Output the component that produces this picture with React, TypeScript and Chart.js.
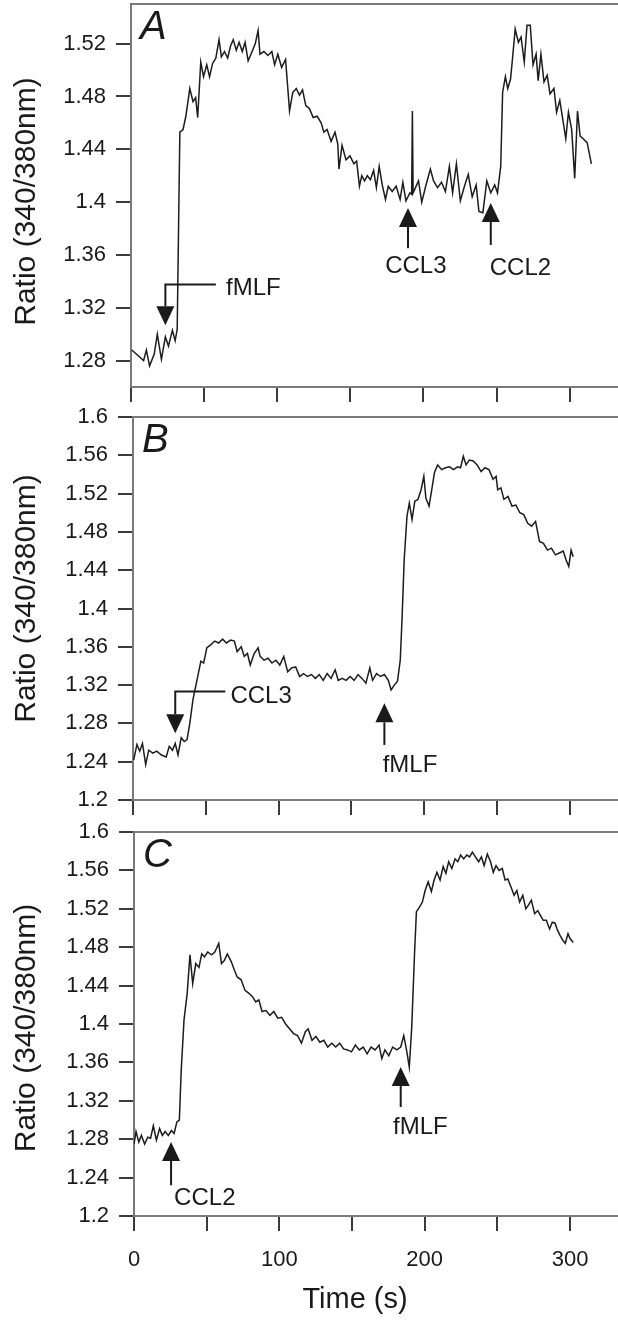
import React, { useEffect, useRef } from 'react';
import { Chart, registerables } from 'chart.js';

Chart.register(...registerables);

const FONT = '"Liberation Sans", Arial, Helvetica, sans-serif';

// ---------- Data ----------
const timeA = [
  0.5, 4.6, 8.6, 10.5, 12.7, 15.9, 18.0, 20.8, 23.5, 25.6,
  28.3, 30.2, 31.6, 33.4, 35.6, 37.5, 40.2, 42.4, 44.2, 45.6,
  47.7, 49.6, 51.8, 53.7, 55.8, 58.0, 60.2, 61.8, 63.9, 66.1,
  68.0, 69.9, 72.0, 73.9, 76.1, 78.0, 80.1, 82.8, 85.0, 86.9,
  88.2, 90.9, 93.6, 96.3, 98.2, 100.4, 103.0, 105.7, 108.4, 110.6,
  113.0, 115.2, 117.3, 119.5, 121.9, 124.6, 127.3, 130.0, 131.9, 134.1,
  136.8, 139.5, 141.4, 142.2, 144.3, 147.0, 149.7, 152.4, 154.3, 156.2,
  157.8, 159.7, 161.6, 163.7, 165.9, 167.8, 169.7, 171.8, 174.0, 175.9,
  178.6, 181.3, 184.0, 185.9, 188.0, 190.7, 191.9, 192.4, 192.9, 196.6,
  198.8, 201.5, 204.7, 206.9, 209.6, 212.3, 215.0, 217.7, 219.9, 222.5,
  225.2, 228.0, 230.6, 233.3, 236.0, 237.9, 240.6, 243.3, 246.0, 248.7,
  250.6, 252.8, 254.1, 256.0, 257.6, 259.5, 260.9, 262.7, 264.9, 266.7,
  268.9, 270.8, 273.0, 274.9, 277.0, 278.4, 280.3, 282.4, 284.6, 286.5,
  289.2, 291.0, 293.2, 297.3, 299.1, 301.3, 303.4, 305.3, 307.1, 309.2,
  311.9, 314.8,
];
const ratioA = [
  1.288, 1.284, 1.280, 1.288, 1.276, 1.285, 1.300, 1.281, 1.298, 1.291,
  1.303, 1.295, 1.304, 1.453, 1.455, 1.465, 1.486, 1.476, 1.479, 1.464,
  1.506, 1.495, 1.504, 1.495, 1.505, 1.509, 1.523, 1.510, 1.514, 1.509,
  1.518, 1.523, 1.515, 1.521, 1.514, 1.521, 1.507, 1.514, 1.520, 1.530,
  1.512, 1.514, 1.511, 1.514, 1.504, 1.512, 1.502, 1.508, 1.469, 1.483,
  1.486, 1.481, 1.485, 1.473, 1.471, 1.464, 1.465, 1.460, 1.453, 1.455,
  1.446, 1.453, 1.444, 1.425, 1.443, 1.432, 1.435, 1.429, 1.431, 1.412,
  1.420, 1.416, 1.420, 1.417, 1.424, 1.411, 1.427, 1.413, 1.402, 1.412,
  1.408, 1.412, 1.402, 1.415, 1.401, 1.407, 1.406, 1.469, 1.407, 1.416,
  1.400, 1.412, 1.425, 1.416, 1.411, 1.415, 1.408, 1.427, 1.407, 1.429,
  1.401, 1.412, 1.421, 1.404, 1.413, 1.393, 1.392, 1.416, 1.407, 1.413,
  1.407, 1.427, 1.483, 1.495, 1.486, 1.493, 1.509, 1.531, 1.521, 1.525,
  1.506, 1.534, 1.534, 1.504, 1.512, 1.492, 1.512, 1.491, 1.496, 1.482,
  1.486, 1.468, 1.477, 1.448, 1.468, 1.455, 1.418, 1.469, 1.450, 1.448,
  1.445, 1.429,
];

const timeB = [
  0.5, 2.7, 4.6, 6.5, 8.7, 10.8, 13.6, 16.3, 19.5, 22.8,
  24.9, 27.1, 29.0, 30.9, 33.1, 35.2, 37.1, 39.0, 41.2, 43.9,
  46.6, 48.5, 50.7, 53.4, 56.1, 58.8, 61.5, 64.2, 66.9, 69.6,
  71.5, 74.3, 76.4, 78.6, 80.5, 83.2, 85.9, 87.3, 90.0, 92.7,
  95.4, 98.1, 100.8, 103.5, 106.2, 108.9, 111.7, 114.4, 117.1, 119.8,
  122.5, 125.2, 127.9, 130.6, 133.3, 136.0, 138.8, 140.9, 143.6, 146.3,
  149.1, 151.8, 154.5, 157.2, 159.9, 162.6, 164.5, 167.2, 169.9, 172.6,
  175.3, 177.2, 179.4, 181.6, 183.5, 184.8, 186.2, 188.1, 189.7, 191.6,
  193.5, 195.7, 197.8, 199.7, 201.1, 203.3, 205.1, 207.0, 209.2, 211.9,
  214.6, 217.3, 220.0, 222.8, 224.9, 226.8, 228.7, 230.9, 233.6, 236.3,
  239.0, 241.7, 244.4, 247.2, 249.3, 250.4, 252.6, 254.7, 257.5, 260.2,
  262.9, 265.6, 268.3, 271.0, 273.7, 276.4, 279.1, 281.8, 284.6, 287.3,
  290.0, 292.7, 295.4, 297.3, 299.2, 300.8, 302.2,
];
const ratioB = [
  1.242, 1.258, 1.251, 1.259, 1.237, 1.252, 1.249, 1.251, 1.247, 1.245,
  1.256, 1.252, 1.259, 1.247, 1.265, 1.261, 1.263, 1.280, 1.305, 1.325,
  1.345, 1.343, 1.359, 1.362, 1.366, 1.364, 1.368, 1.364, 1.367, 1.366,
  1.355, 1.360, 1.350, 1.353, 1.341, 1.353, 1.359, 1.350, 1.346, 1.348,
  1.343, 1.346, 1.341, 1.350, 1.334, 1.338, 1.339, 1.329, 1.332, 1.329,
  1.331, 1.327, 1.331, 1.325, 1.332, 1.327, 1.336, 1.325, 1.327, 1.325,
  1.329, 1.325, 1.331, 1.327, 1.322, 1.338, 1.325, 1.332, 1.329, 1.331,
  1.325, 1.315, 1.320, 1.324, 1.346, 1.392, 1.451, 1.496, 1.510, 1.493,
  1.512, 1.514, 1.524, 1.538, 1.515, 1.507, 1.524, 1.542, 1.550, 1.545,
  1.547, 1.548, 1.545, 1.548, 1.547, 1.559, 1.550, 1.555, 1.554, 1.550,
  1.543, 1.547, 1.545, 1.535, 1.538, 1.524, 1.526, 1.514, 1.517, 1.507,
  1.508, 1.500, 1.498, 1.489, 1.486, 1.491, 1.470, 1.468, 1.461, 1.463,
  1.456, 1.458, 1.460, 1.451, 1.444, 1.461, 1.454,
];

const timeC = [
  0, 1.4, 3.3, 5.1, 7.3, 9.5, 11.4, 13.3, 15.4, 17.6,
  19.5, 21.4, 23.6, 25.7, 27.6, 29.5, 31.2, 32.5, 34.4, 36.6,
  38.5, 40.4, 42.5, 44.7, 46.6, 48.5, 50.7, 53.4, 55.6, 58.3,
  60.2, 62.1, 64.2, 66.9, 69.1, 71.0, 73.7, 76.4, 79.1, 81.8,
  83.7, 85.9, 88.1, 90.8, 93.5, 96.2, 98.9, 101.6, 104.3, 107.0,
  109.8, 112.5, 115.2, 117.9, 119.8, 122.5, 125.2, 127.9, 130.6, 133.3,
  136.0, 138.8, 141.5, 144.2, 146.9, 149.6, 152.3, 155.0, 157.7, 160.4,
  163.1, 165.9, 168.6, 170.5, 172.6, 175.3, 178.0, 180.8, 183.5, 185.6,
  187.5, 189.4, 191.1, 193.0, 194.3, 196.5, 198.4, 200.3, 202.4, 204.6,
  206.5, 208.4, 210.6, 212.7, 214.6, 216.5, 218.7, 220.9, 222.8, 224.7,
  226.8, 229.0, 230.9, 232.8, 234.9, 237.1, 239.0, 240.9, 243.1, 245.3,
  247.2, 249.1, 251.2, 253.4, 255.3, 257.2, 259.3, 261.5, 263.4, 265.3,
  267.5, 269.6, 271.5, 273.4, 275.6, 277.8, 279.7, 281.6, 283.7, 285.9,
  287.8, 289.7, 291.3, 293.2, 295.1, 296.7, 298.6, 300.0, 302.2,
];
const ratioC = [
  1.275, 1.288, 1.277, 1.284, 1.275, 1.282, 1.281, 1.294, 1.279, 1.291,
  1.284, 1.288, 1.284, 1.289, 1.286, 1.298, 1.300, 1.352, 1.404, 1.432,
  1.472, 1.442, 1.463, 1.459, 1.473, 1.470, 1.475, 1.472, 1.475, 1.484,
  1.463, 1.466, 1.473, 1.465, 1.456, 1.449, 1.446, 1.435, 1.432, 1.428,
  1.423, 1.425, 1.413, 1.414, 1.409, 1.413, 1.406, 1.407, 1.400, 1.395,
  1.390, 1.388, 1.380, 1.392, 1.395, 1.383, 1.387, 1.381, 1.383, 1.376,
  1.380, 1.376, 1.380, 1.374, 1.373, 1.371, 1.378, 1.373, 1.376, 1.369,
  1.376, 1.373, 1.378, 1.364, 1.373, 1.367, 1.376, 1.373, 1.376, 1.388,
  1.373, 1.355, 1.397, 1.473, 1.517, 1.522, 1.527, 1.539, 1.548, 1.538,
  1.550, 1.558, 1.550, 1.564, 1.557, 1.569, 1.562, 1.572, 1.569, 1.576,
  1.572, 1.576, 1.574, 1.579, 1.574, 1.569, 1.574, 1.565, 1.577, 1.569,
  1.558, 1.565, 1.560, 1.562, 1.550, 1.551, 1.543, 1.534, 1.539, 1.527,
  1.534, 1.520, 1.524, 1.529, 1.515, 1.518, 1.513, 1.508, 1.508, 1.499,
  1.506, 1.505, 1.498, 1.492, 1.487, 1.484, 1.494, 1.489, 1.485,
];

const xRange = [0, 333];
const xTicks = [0, 50, 100, 150, 200, 250, 300];
const xLabeledTicks = [0, 100, 200, 300];
const yRangeA = [1.26, 1.55];
const yTicksA = [1.28, 1.32, 1.36, 1.4, 1.44, 1.48, 1.52];
const yRangeBC = [1.2, 1.6];
const yTicksBC = [1.2, 1.24, 1.28, 1.32, 1.36, 1.4, 1.44, 1.48, 1.52, 1.56, 1.6];

const yTitle = 'Ratio (340/380nm)';
const xTitle = 'Time (s)';
const xTitleCenterT = 150;

// annotations: time (s), arrow tip value, direction, shaft end value, optional elbow end time, label placement
const arrowsA = [
  { label: 'fMLF', t: 23.5, tip: 1.3067, dir: 'down', end: 1.3377, elbowT: 58, labelT: 65, labelV: 1.3346, align: 'left' },
  { label: 'CCL3', t: 189.4, tip: 1.3956, dir: 'up', end: 1.3651, labelT: 194.8, labelV: 1.3511, align: 'center' },
  { label: 'CCL2', t: 246, tip: 1.3994, dir: 'up', end: 1.3676, labelT: 266.3, labelV: 1.3498, align: 'center' },
];
const arrowsB = [
  { label: 'CCL3', t: 29, tip: 1.2697, dir: 'down', end: 1.3132, elbowT: 63.4, labelT: 66.9, labelV: 1.308, align: 'left' },
  { label: 'fMLF', t: 172.6, tip: 1.301, dir: 'up', end: 1.2575, labelT: 190.2, labelV: 1.2366, align: 'center' },
];
const arrowsC = [
  { label: 'CCL2', t: 25.5, tip: 1.2771, dir: 'up', end: 1.232, labelT: 27.6, labelV: 1.218, align: 'left' },
  { label: 'fMLF', t: 183.5, tip: 1.3552, dir: 'up', end: 1.3135, labelT: 197, labelV: 1.2927, align: 'center' },
];

// ---------- Layout / style ----------
const AXIS_COLOR = '#7a7a7a';
const TICK_COLOR = '#3a3a3a';
const TEXT_COLOR = '#1a1a1a';
const LINE_COLOR = '#1c1c1c';
const HEAD_W = 18;
const HEAD_H = 19;

type Arrow = { label: string; t: number; tip: number; dir: string; end: number; elbowT?: number; labelT: number; labelV: number; align: string };

type PanelCfg = {
  letter: string;
  times: number[];
  values: number[];
  yRange: number[];
  yTicks: number[];
  arrows: Arrow[];
  top: number;
  height: number;
  axisLeft: number;
  padTop: number;
  xAxisHeight: number;
  showXLabels: boolean;
  titleShift: number;
};

const panels: PanelCfg[] = [
  { letter: 'A', times: timeA, values: ratioA, yRange: yRangeA, yTicks: yTicksA, arrows: arrowsA,
    top: 0, height: 420, axisLeft: 131, padTop: 4, xAxisHeight: 33, showXLabels: false, titleShift: 6 },
  { letter: 'B', times: timeB, values: ratioB, yRange: yRangeBC, yTicks: yTicksBC, arrows: arrowsB,
    top: 400, height: 420, axisLeft: 133, padTop: 17, xAxisHeight: 20, showXLabels: false, titleShift: -10 },
  { letter: 'C', times: timeC, values: ratioC, yRange: yRangeBC, yTicks: yTicksBC, arrows: arrowsC,
    top: 815, height: 505, axisLeft: 134, padTop: 17, xAxisHeight: 104, showXLabels: true, titleShift: 4 },
];

function fmtTick(v: number) {
  return String(Number(v.toFixed(2)));
}

function makeDeco(cfg: PanelCfg) {
  return {
    id: 'deco' + cfg.letter,
    afterDraw(chart: any) {
      const { ctx, chartArea: a } = chart;
      const xs = chart.scales.x;
      const ys = chart.scales.y;
      ctx.save();
      // top frame line
      ctx.strokeStyle = AXIS_COLOR;
      ctx.lineWidth = 2;
      ctx.beginPath();
      ctx.moveTo(a.left - 1, a.top);
      ctx.lineTo(a.right, a.top);
      ctx.stroke();

      // panel letter
      ctx.fillStyle = TEXT_COLOR;
      ctx.font = `italic 40px ${FONT}`;
      ctx.textAlign = 'left';
      ctx.textBaseline = 'alphabetic';
      ctx.fillText(cfg.letter, a.left + 9, a.top + 35);

      // arrows
      ctx.font = `24px ${FONT}`;
      ctx.strokeStyle = TEXT_COLOR;
      ctx.lineWidth = 2;
      for (const ar of cfg.arrows) {
        const px = xs.getPixelForValue(ar.t);
        const tipY = ys.getPixelForValue(ar.tip);
        const baseY = ar.dir === 'down' ? tipY - HEAD_H : tipY + HEAD_H;
        ctx.beginPath();
        ctx.moveTo(px, tipY);
        ctx.lineTo(px - HEAD_W / 2, baseY);
        ctx.lineTo(px + HEAD_W / 2, baseY);
        ctx.closePath();
        ctx.fill();
        const endY = ys.getPixelForValue(ar.end);
        ctx.beginPath();
        ctx.moveTo(px, baseY);
        ctx.lineTo(px, endY);
        if (ar.elbowT !== undefined) ctx.lineTo(xs.getPixelForValue(ar.elbowT), endY);
        ctx.stroke();
        ctx.textAlign = ar.align as CanvasTextAlign;
        ctx.textBaseline = 'middle';
        ctx.fillText(ar.label, xs.getPixelForValue(ar.labelT), ys.getPixelForValue(ar.labelV));
      }

      // y title
      ctx.font = `30px ${FONT}`;
      ctx.textAlign = 'center';
      ctx.textBaseline = 'middle';
      ctx.translate(27, (a.top + a.bottom) / 2 + cfg.titleShift);
      ctx.rotate(-Math.PI / 2);
      ctx.fillText(yTitle, 0, 0);
      ctx.restore();

      if (cfg.showXLabels) {
        ctx.save();
        ctx.fillStyle = TEXT_COLOR;
        ctx.font = `29px ${FONT}`;
        ctx.textAlign = 'center';
        ctx.textBaseline = 'middle';
        ctx.fillText(xTitle, xs.getPixelForValue(xTitleCenterT) + 3, chart.height - 20);
        ctx.restore();
      }
    },
  };
}

function buildConfig(cfg: PanelCfg): any {
  const n = Math.min(cfg.times.length, cfg.values.length);
  const pts = [];
  for (let i = 0; i < n; i++) pts.push({ x: cfg.times[i], y: cfg.values[i] });
  return {
    type: 'line',
    data: {
      datasets: [{
        data: pts,
        borderColor: LINE_COLOR,
        borderWidth: 1.5,
        pointRadius: 0,
        tension: 0,
        fill: false,
      }],
    },
    options: {
      responsive: false,
      maintainAspectRatio: false,
      animation: false,
      layout: { padding: { top: cfg.padTop, left: 0, right: 0, bottom: 0 } },
      plugins: { legend: { display: false }, tooltip: { enabled: false } },
      scales: {
        x: {
          type: 'linear',
          position: 'bottom',
          min: xRange[0],
          max: xRange[1],
          afterBuildTicks: (s: any) => { s.ticks = xTicks.map((v) => ({ value: v })); },
          afterFit: (s: any) => {
            s.height = cfg.xAxisHeight;
            s.paddingLeft = 0; s.paddingRight = 0; s.paddingTop = 0; s.paddingBottom = 0;
          },
          grid: { drawOnChartArea: false, drawTicks: true, tickLength: 15, color: TICK_COLOR, lineWidth: 2 },
          border: { display: true, color: AXIS_COLOR, width: 2 },
          ticks: {
            display: cfg.showXLabels,
            autoSkip: false,
            maxRotation: 0,
            padding: 16,
            color: TEXT_COLOR,
            font: { size: 22, family: FONT },
            callback: (v: number) => (xLabeledTicks.includes(v) ? String(v) : ''),
          },
        },
        y: {
          type: 'linear',
          position: 'left',
          min: cfg.yRange[0],
          max: cfg.yRange[1],
          afterBuildTicks: (s: any) => { s.ticks = cfg.yTicks.map((v) => ({ value: v })); },
          afterFit: (s: any) => {
            s.width = cfg.axisLeft;
            s.paddingLeft = 0; s.paddingRight = 0; s.paddingTop = 0; s.paddingBottom = 0;
          },
          grid: { drawOnChartArea: false, drawTicks: true, tickLength: 15, color: TICK_COLOR, lineWidth: 2 },
          border: { display: true, color: AXIS_COLOR, width: 2 },
          ticks: {
            padding: 10,
            color: TEXT_COLOR,
            font: { size: 22, family: FONT },
            callback: (v: number) => fmtTick(v),
          },
        },
      },
    },
    plugins: [makeDeco(cfg)],
  };
}

function Panel({ cfg }: { cfg: PanelCfg }) {
  const ref = useRef<HTMLCanvasElement>(null);
  useEffect(() => {
    if (!ref.current) return;
    const chart = new Chart(ref.current, buildConfig(cfg));
    return () => chart.destroy();
  }, [cfg]);
  return (
    <canvas
      ref={ref}
      width={618}
      height={cfg.height}
      style={{ position: 'absolute', left: 0, top: cfg.top, width: 618, height: cfg.height, display: 'block' }}
    />
  );
}

export default function App() {
  return (
    <div style={{ position: 'absolute', left: 0, top: 0, width: 618, height: 1320, background: '#ffffff', overflow: 'hidden' }}>
      {panels.map((p) => (
        <Panel key={p.letter} cfg={p} />
      ))}
    </div>
  );
}
